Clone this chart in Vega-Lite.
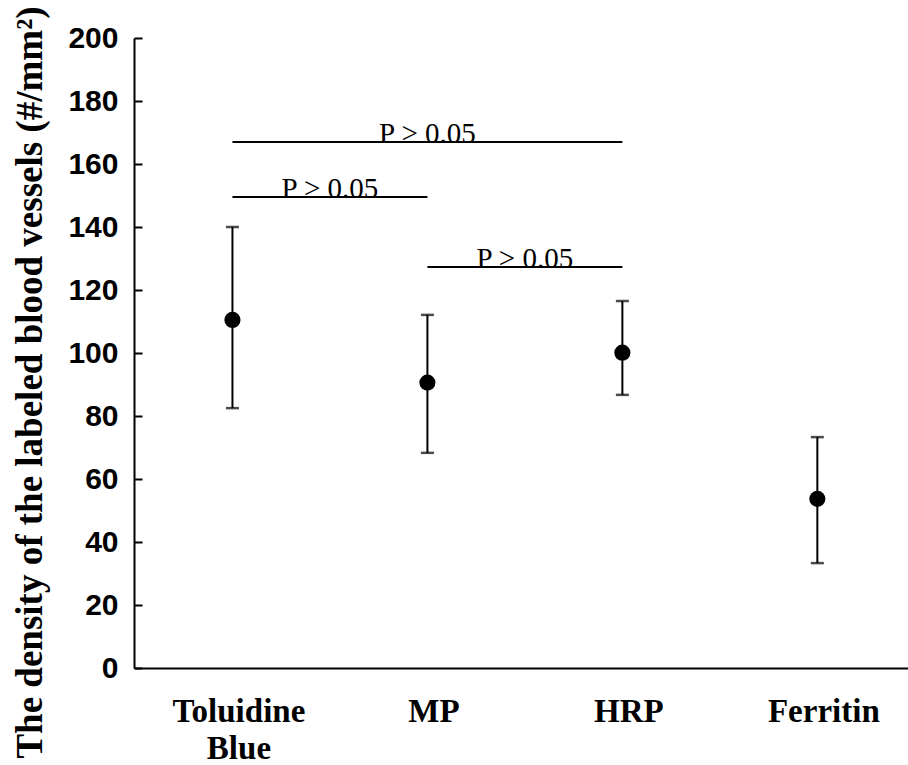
{
  "$schema": "https://vega.github.io/schema/vega-lite/v6.json",
  "width": 774,
  "height": 630,
  "autosize": "none",
  "padding": {"left": 134, "top": 38, "right": 0, "bottom": 97},
  "background": "white",
  "config": {"view": {"stroke": null}, "font": "Liberation Serif"},
  "datasets": {
    "groups": [
      {"group": "Toluidine Blue", "idx": 1, "mean": 110.5, "lower": 82.5, "upper": 140.0},
      {"group": "MP", "idx": 2, "mean": 90.6, "lower": 68.3, "upper": 112.1},
      {"group": "HRP", "idx": 3, "mean": 100.1, "lower": 86.7, "upper": 116.5},
      {"group": "Ferritin", "idx": 4, "mean": 53.7, "lower": 33.3, "upper": 73.3}
    ],
    "comparisons": [
      {"from": 1, "to": 3, "level": 167.0, "label": "P > 0.05"},
      {"from": 1, "to": 2, "level": 149.5, "label": "P > 0.05"},
      {"from": 2, "to": 3, "level": 127.3, "label": "P > 0.05"}
    ]
  },
  "layer": [
    {
      "data": {"name": "groups"},
      "mark": {
        "type": "errorbar",
        "ticks": {"size": 13, "thickness": 2.5, "color": "black"},
        "rule": {"strokeWidth": 2, "color": "black"}
      },
      "encoding": {
        "x": {
          "field": "idx",
          "type": "quantitative",
          "scale": {"domain": [0.495, 4.465], "nice": false, "zero": false},
          "axis": {
            "title": null,
            "values": [1, 2, 3, 4],
            "labelExpr": "datum.value == 1 ? ['Toluidine', 'Blue'] : datum.value == 2 ? 'MP' : datum.value == 3 ? 'HRP' : 'Ferritin'",
            "ticks": false,
            "grid": false,
            "domainColor": "black",
            "domainWidth": 2,
            "labelFont": "Liberation Serif",
            "labelFontWeight": "bold",
            "labelFontSize": 33,
            "labelColor": "black",
            "labelPadding": 27,
            "labelLineHeight": 37,
            "labelOffset": 6,
            "labelFlush": false,
            "labelOverlap": false
          }
        },
        "y": {
          "field": "lower",
          "type": "quantitative",
          "scale": {"domain": [0, 200], "nice": false},
          "axis": {
            "title": "The density of the labeled blood vessels (#/mm²)",
            "values": [0, 20, 40, 60, 80, 100, 120, 140, 160, 180, 200],
            "grid": false,
            "tickSize": -8,
            "tickWidth": 2,
            "tickColor": "black",
            "domainColor": "black",
            "domainWidth": 2,
            "labelFont": "Liberation Sans",
            "labelFontWeight": "bold",
            "labelFontSize": 30,
            "labelColor": "black",
            "labelPadding": 24,
            "labelFlush": false,
            "titleFont": "Liberation Serif",
            "titleFontWeight": "bold",
            "titleFontSize": 37,
            "titleColor": "black",
            "titlePadding": 18,
            "titleY": 344
          }
        },
        "y2": {"field": "upper"}
      }
    },
    {
      "data": {"name": "groups"},
      "mark": {"type": "circle", "size": 260, "color": "black", "opacity": 1},
      "encoding": {
        "x": {"field": "idx", "type": "quantitative"},
        "y": {"field": "mean", "type": "quantitative"}
      }
    },
    {
      "data": {"name": "comparisons"},
      "mark": {"type": "rule", "strokeWidth": 2, "color": "black"},
      "encoding": {
        "x": {"field": "from", "type": "quantitative"},
        "x2": {"field": "to"},
        "y": {"field": "level", "type": "quantitative"}
      }
    },
    {
      "data": {"name": "comparisons"},
      "transform": [{"calculate": "(datum.from + datum.to) / 2", "as": "mid"}],
      "mark": {
        "type": "text",
        "font": "Liberation Serif",
        "fontSize": 29,
        "color": "black",
        "baseline": "alphabetic",
        "align": "center",
        "dy": 1
      },
      "encoding": {
        "x": {"field": "mid", "type": "quantitative"},
        "y": {"field": "level", "type": "quantitative"},
        "text": {"field": "label"}
      }
    },
    {
      "mark": {"type": "rule", "strokeWidth": 2, "color": "black"},
      "encoding": {"y": {"datum": 200, "type": "quantitative"}}
    }
  ]
}
